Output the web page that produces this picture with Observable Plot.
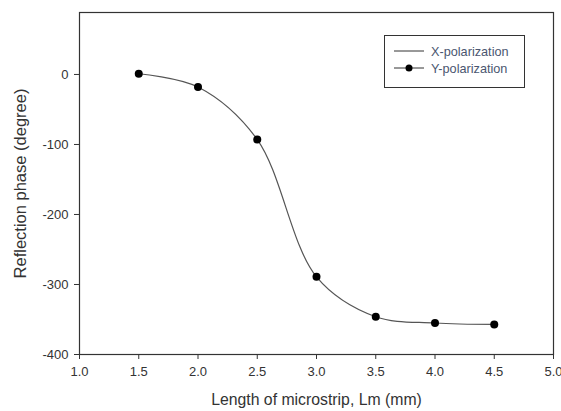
<!DOCTYPE html>
<html>
<head>
<meta charset="utf-8">
<script src="https://cdn.jsdelivr.net/npm/d3@7"></script>
<script src="https://cdn.jsdelivr.net/npm/@observablehq/plot@0.6"></script>
<style>
  html, body { margin: 0; padding: 0; background: #fff; }
  #wrap { position: relative; width: 561px; height: 411px; font-family: "Liberation Sans", Arial, sans-serif; }
  #legend { position: absolute; left: 384px; top: 35px; width: 141px; height: 53px; border: 1.2px solid #333; box-sizing: border-box; background: #fff; }
  #legend svg { position: absolute; left: 0; top: 0; }
</style>
</head>
<body>
<div id="wrap"></div>
<script>
const lengthMm = [1.5, 2.0, 2.5, 3.0, 3.5, 4.0, 4.5];
const xPolarization = [1, -18, -93, -289, -346, -355, -357];
const yPolarization = [1, -18, -93, -289, -346, -355, -357];
const xTicks = [1.0, 1.5, 2.0, 2.5, 3.0, 3.5, 4.0, 4.5, 5.0];
const yTicks = [0, -100, -200, -300, -400];
const seriesNames = ["X-polarization", "Y-polarization"];

const xData = lengthMm.map((x, i) => ({x, y: xPolarization[i]}));
const yData = lengthMm.map((x, i) => ({x, y: yPolarization[i]}));

const chart = Plot.plot({
  width: 561,
  height: 411,
  marginLeft: 79,
  marginRight: 8,
  marginTop: 12,
  marginBottom: 57,
  style: { fontFamily: "Liberation Sans, Arial, sans-serif", fontSize: "13px", color: "#333", background: "#fff" },
  x: { domain: [1, 5], label: null },
  y: { domain: [-400, 88.5], label: null },
  marks: [
    Plot.frame({ stroke: "#333", strokeWidth: 1.2 }),
    Plot.axisX({ ticks: xTicks, tickFormat: d3.format(".1f"), tickSize: 5, tickPadding: 7, label: null, fontSize: 13, stroke: "#333" }),
    Plot.axisY({ ticks: yTicks, tickFormat: d => String(d), tickSize: 5, tickPadding: 6, label: null, fontSize: 13, stroke: "#333" }),
    Plot.line(xData, { x: "x", y: "y", curve: "catmull-rom", stroke: "#555", strokeWidth: 1.2 }),
    Plot.dot(yData, { x: "x", y: "y", r: 4, fill: "#000", stroke: "none" }),
    Plot.text(["Length of microstrip, Lm (mm)"], { frameAnchor: "bottom", dy: 50, text: d => d, fontSize: 15.8, fill: "#333" }),
    Plot.text(["Reflection phase (degree)"], { frameAnchor: "left", textAnchor: "middle", dx: -59, rotate: -90, text: d => d, fontSize: 16.5, fill: "#333" })
  ]
});

const wrap = document.getElementById("wrap");
wrap.appendChild(chart);

const legend = document.createElement("div");
legend.id = "legend";
legend.innerHTML = `<svg width="141" height="53">
  <line x1="9" x2="39" y1="15" y2="15" stroke="#333" stroke-width="1"/>
  <text x="46" y="19.5" font-size="12.7" fill="#4a5670" font-family="Liberation Sans, Arial, sans-serif">${seriesNames[0]}</text>
  <line x1="9" x2="39" y1="32" y2="32" stroke="#333" stroke-width="1"/>
  <circle cx="24" cy="32" r="3.5" fill="#000"/>
  <text x="46" y="36.5" font-size="12.7" fill="#4a5670" font-family="Liberation Sans, Arial, sans-serif">${seriesNames[1]}</text>
</svg>`;
wrap.appendChild(legend);
</script>
</body>
</html>
